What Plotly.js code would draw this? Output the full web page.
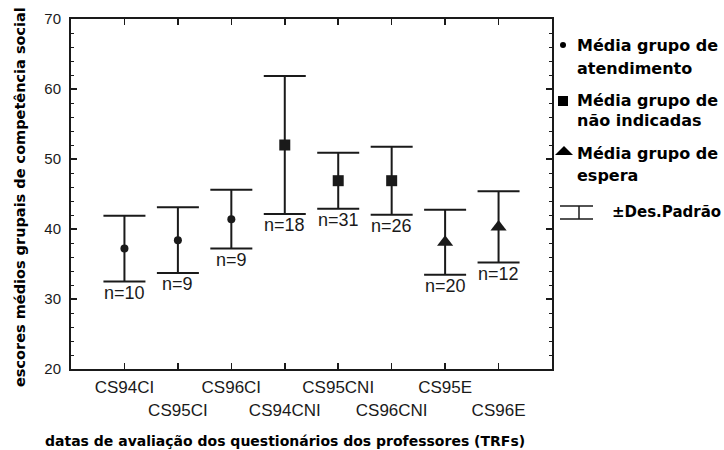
<!DOCTYPE html>
<html>
<head>
<meta charset="utf-8">
<script src="https://cdn.plot.ly/plotly-3.0.1.min.js"></script>
<style>html,body{margin:0;padding:0;background:#fff;}#chart{width:724px;height:450px;}</style>
</head>
<body>
<div id="chart"></div>
<script>
// ---- data ----
const categories = ["CS94CI","CS95CI","CS96CI","CS94CNI","CS95CNI","CS96CNI","CS95E","CS96E"];
const means = [37.2, 38.4, 41.4, 52.0, 46.9, 46.9, 38.1, 40.3];
const sds = [4.7, 4.7, 4.2, 9.85, 4.0, 4.85, 4.65, 5.1];
const nValues = [10, 9, 9, 18, 31, 26, 20, 12];
const groups = ["atendimento","atendimento","atendimento","naoindicadas","naoindicadas","naoindicadas","espera","espera"];
const groupOrder = ["atendimento","naoindicadas","espera"];
const groupLabels = [["Média grupo de","atendimento"],["Média grupo de","não indicadas"],["Média grupo de","espera"]];
const sdLabel = "±Des.Padrão";
const yTicks = [20, 30, 40, 50, 60, 70];
const xTitle = "datas de avaliação dos questionários dos professores (TRFs)";
const yTitle = "escores médios grupais de competência social";

// ---- layout constants ----
const W = 724, H = 450;
const M = {l: 71, r: 172, t: 19, b: 81};
const PW = W - M.l - M.r, PH = H - M.t - M.b;
const px = x => (x - M.l) / PW;
const py = y => (H - M.b - y) / PH;
const INK = "#1a1a1a";
const symbols = {atendimento: "circle", naoindicadas: "square", espera: "triangle-up"};
const sizes = {atendimento: 8, naoindicadas: 11, espera: 14};

const xIdx = categories.map((c, i) => i + 1);

const traces = groupOrder.map(g => {
  const idx = groups.map((gg, i) => gg === g ? i : -1).filter(i => i >= 0);
  return {
    type: "scatter", mode: "markers",
    x: idx.map(i => xIdx[i]), y: idx.map(i => means[i]),
    error_y: {type: "data", array: idx.map(i => sds[i]), visible: true, color: INK, thickness: 2, width: 21},
    marker: {symbol: symbols[g], size: sizes[g], color: INK, line: {width: 0}},
    showlegend: false, hoverinfo: "skip"
  };
});

const annotations = [];
// n labels under lower caps
categories.forEach((c, i) => {
  annotations.push({
    xref: "x", yref: "y", x: xIdx[i], y: means[i] - sds[i],
    text: "n=" + nValues[i], showarrow: false, xanchor: "center", yanchor: "top",
    yshift: 1, font: {family: "Liberation Sans, Arial, sans-serif", size: 18, color: INK}
  });
});
// axis titles
annotations.push({xref: "paper", yref: "paper", x: px(285), y: py(441), text: xTitle, showarrow: false,
  xanchor: "center", yanchor: "middle", font: {family: "DejaVu Sans", size: 14, color: "#000", weight: "bold"}});
annotations.push({xref: "paper", yref: "paper", x: px(20), y: py(197), text: yTitle, showarrow: false, textangle: -90,
  xanchor: "center", yanchor: "middle", font: {family: "DejaVu Sans", size: 14.5, color: "#000", weight: "bold"}});

// legend (text)
const legFont = {family: "DejaVu Sans", size: 16, color: "#000", weight: "bold"};
const legRows = [[45, 68], [100, 120], [153, 175]];
groupLabels.forEach((lines, k) => {
  lines.forEach((t, j) => {
    annotations.push({xref: "paper", yref: "paper", x: px(575), y: py(legRows[k][j]), text: t, showarrow: false,
      xanchor: "left", yanchor: "middle", font: legFont});
  });
});
annotations.push({xref: "paper", yref: "paper", x: px(610), y: py(212), text: sdLabel, showarrow: false,
  xanchor: "left", yanchor: "middle", font: {family: "DejaVu Sans", size: 15, color: "#000", weight: "bold"}});

// legend symbols (shapes, paper units)
const shapes = [
  {type: "circle", xref: "paper", yref: "paper", x0: px(560), x1: px(566), y0: py(48), y1: py(42), fillcolor: "#000", line: {width: 0}},
  {type: "rect", xref: "paper", yref: "paper", x0: px(558), x1: px(568), y0: py(106), y1: py(96), fillcolor: "#000", line: {width: 0}},
  {type: "path", xref: "paper", yref: "paper", path: `M ${px(555)} ${py(155)} L ${px(573)} ${py(155)} L ${px(564)} ${py(146)} Z`, fillcolor: "#000", line: {width: 0}},
  {type: "line", xref: "paper", yref: "paper", x0: px(560), x1: px(593), y0: py(206), y1: py(206), line: {color: INK, width: 1.5}},
  {type: "line", xref: "paper", yref: "paper", x0: px(560), x1: px(593), y0: py(219), y1: py(219), line: {color: INK, width: 1.5}},
  {type: "line", xref: "paper", yref: "paper", x0: px(579), x1: px(579), y0: py(206), y1: py(219), line: {color: INK, width: 1.5}}
];

const layout = {
  width: W, height: H,
  margin: M,
  paper_bgcolor: "#fff", plot_bgcolor: "#fff",
  font: {family: "Liberation Sans, Arial, sans-serif", color: INK},
  xaxis: {
    range: [0, 9], tickmode: "array", tickvals: xIdx,
    ticktext: categories.map((c, i) => i % 2 === 0 ? c : "<br>" + c),
    tickangle: 0,
    ticks: "inside", ticklen: 6, tickwidth: 1.5, tickcolor: INK,
    showline: true, linecolor: INK, linewidth: 2, mirror: "allticks",
    showgrid: false, zeroline: false, ticklabelstandoff: 2,
    tickfont: {family: "Liberation Sans, Arial, sans-serif", size: 17, color: INK}
  },
  yaxis: {
    range: [20, 70], tickmode: "array", tickvals: yTicks,
    ticks: "inside", ticklen: 6, tickwidth: 1.5, tickcolor: INK,
    minor: {dtick: 2, ticks: "inside", ticklen: 3, tickwidth: 1, tickcolor: INK, showgrid: false},
    showline: true, linecolor: INK, linewidth: 2, mirror: "allticks",
    showgrid: false, zeroline: false, ticklabelstandoff: 5,
    tickfont: {family: "Liberation Sans, Arial, sans-serif", size: 15, color: INK}
  },
  annotations: annotations,
  shapes: shapes,
  showlegend: false
};

Plotly.newPlot("chart", traces, layout, {staticPlot: true, displayModeBar: false});
</script>
</body>
</html>
